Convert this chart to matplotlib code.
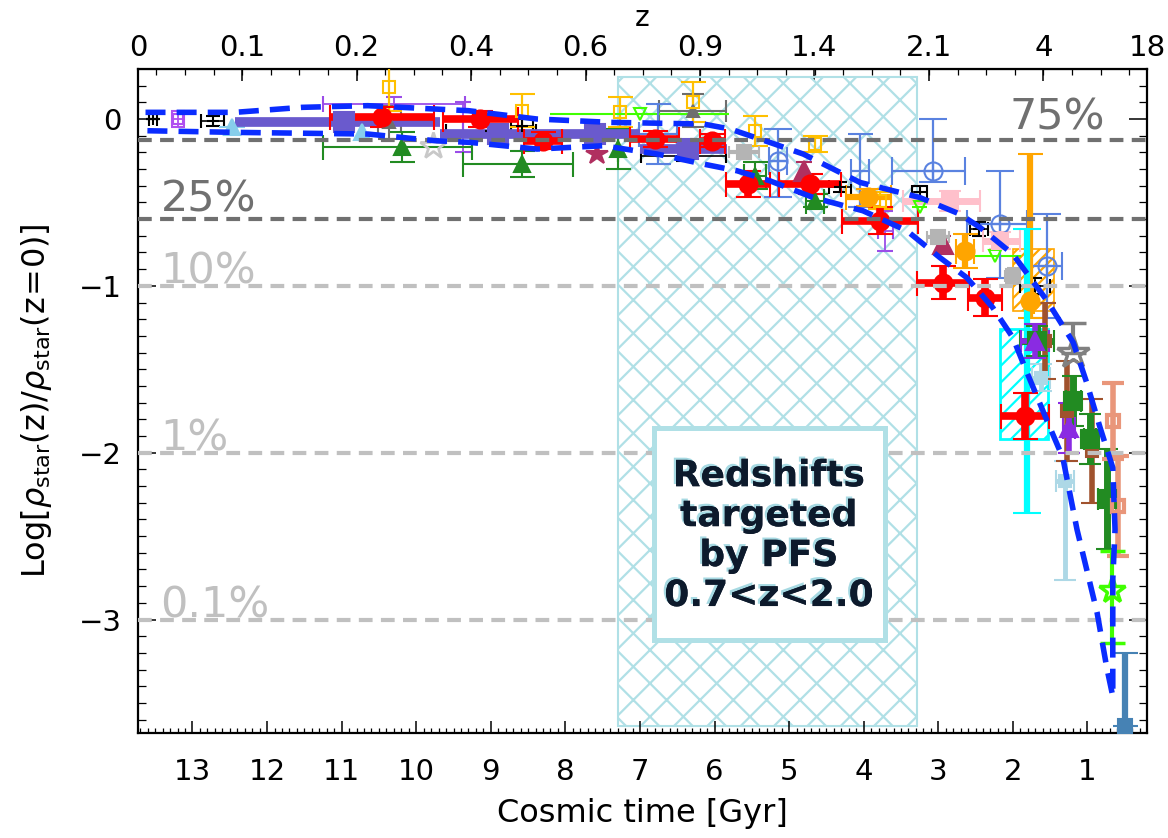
import numpy as np
import matplotlib
matplotlib.use('Agg')
import matplotlib.pyplot as plt
import matplotlib.patheffects as pe
from matplotlib.patches import Rectangle

plt.rcParams['font.family'] = ['DejaVu Sans']
plt.rcParams['hatch.linewidth'] = 1.6

# ---------------- axes annotation ----------------
bottom_ticks = [13, 12, 11, 10, 9, 8, 7, 6, 5, 4, 3, 2, 1]
top_labels = ['0', '0.1', '0.2', '0.4', '0.6', '0.9', '1.4', '2.1', '4', '18']
top_ticks = [13.73, 12.33, 10.80, 9.26, 7.73, 6.19, 4.66, 3.13, 1.59, 0.20]

pct_frac = [0.75, 0.25, 0.10, 0.01, 0.001]
pct_text = ['75%', '25%', '10%', '1%', '0.1%']

# PFS window (0.7<z<2.0) in cosmic time
pfs_t = [7.29, 3.29]

# ---------------- model envelope ----------------
env_up_t = [13.63, 12.43, 11.53, 10.65, 9.75, 9.30, 8.38, 7.40, 6.15, 5.79, 5.26, 4.81,
            4.05, 3.25, 2.71, 2.44, 2.00, 1.54, 1.19, 1.01, 0.83, 0.66, 0.63, 0.66, 0.66]
env_up_v = [0.04, 0.04, 0.07, 0.08, 0.06, 0.05, 0.00, -0.02, -0.03, -0.06, -0.14, -0.21,
            -0.38, -0.47, -0.57, -0.65, -0.81, -1.09, -1.34, -1.58, -1.85, -2.09, -2.46, -2.76, -3.46]
env_lo_t = [13.63, 12.43, 10.65, 9.75, 9.28, 8.38, 7.49, 6.77, 6.15, 5.70, 5.26, 4.68, 4.01,
            3.42, 2.98, 2.62, 2.27, 2.00, 1.81, 1.54, 1.33, 1.14, 1.01, 0.87, 0.74, 0.66]
env_lo_v = [-0.07, -0.08, -0.09, -0.13, -0.14, -0.18, -0.16, -0.21, -0.27, -0.31, -0.37, -0.47, -0.55,
            -0.67, -0.83, -0.95, -1.13, -1.31, -1.52, -1.81, -2.03, -2.46, -2.70, -2.96, -3.29, -3.46]

# ---------------- data compilation ----------------
red_t = [10.46, 9.14, 8.30, 6.80, 6.03, 5.55, 4.72, 3.78, 2.94, 2.37, 1.84]
red_v = [0.01, 0.00, -0.13, -0.12, -0.13, -0.39, -0.39, -0.61, -0.98, -1.07, -1.78]
red_dt = [0.70, 0.50, 0.25, 0.33, 0.17, 0.30, 0.42, 0.51, 0.35, 0.23, 0.32]
red_dv = [0.06, 0.05, 0.05, 0.05, 0.04, 0.08, 0.06, 0.08, 0.10, 0.11, 0.14]

sb_t = [10.97, 8.90, 7.60, 6.36]
sb_v = [-0.02, -0.09, -0.09, -0.18]
sb_dt_lo = [1.29, 0.83, 0.60, 0.53]
sb_dt_hi = [1.46, 0.78, 0.47, 0.64]
sb_dv = [0.05, 0.06, 0.05, 0.06]

gd_t = [10.36, 8.58, 7.27, 6.29, 5.46, 4.65, 3.78]
gd_v = [0.19, 0.05, 0.04, 0.10, -0.07, -0.15, -0.49]
gd_dv = [0.14, 0.10, 0.09, 0.12, 0.09, 0.05, 0.05]

gt_t = [10.19, 8.58, 7.29, 5.46, 4.65]
gt_v = [-0.17, -0.27, -0.18, -0.34, -0.49]
gt_dt_lo = [0.94, 0.68, 0.0, 0.15, 0.12]
gt_dt_hi = [1.06, 0.79, 0.0, 0.15, 0.12]
gt_dv = [0.09, 0.08, 0.12, 0.08, 0.04]

dg_t = [1.68, 1.19, 0.97, 0.74]
dg_v = [-1.33, -1.69, -1.92, -2.28]
dg_dt = [0.23, 0.10, 0.08, 0.12]
dg_dv = [0.09, 0.15, 0.15, 0.30]

br_t = [1.57, 1.27, 0.94]
br_v = [-1.33, -1.75, -1.99]
br_dv = [0.23, 0.30, 0.31]

sa_t = [0.66, 0.59]
sa_v = [-1.81, -2.32]
sa_dv = [0.23, 0.30]

cy_t = [1.81]
cy_v = [-1.45]
cy_dv_lo = [0.91]
cy_dv_hi = [0.79]
cy_box_t = [2.17, 1.53]
cy_box_v = [-1.92, -1.26]

lb_t = [1.62, 1.30]
lb_v = [-1.55, -2.17]
lb_dt = [0.12, 0.12]
lb_dv_lo = [0.08, 0.59]
lb_dv_hi = [0.08, 0.12]

st_t = [0.50]
st_v = [-3.64]
st_dv_hi = [0.44]

lm_t = [7.00, 3.25, 2.24]
lm_v = [0.03, -0.53, -0.82]
lm_dt = [1.20, 0.10, 0.35]

ls_t = [0.67]
ls_v = [-2.82]
ls_dv_lo = [0.32]
ls_dv_hi = [0.23]

gs_t = [1.19]
gs_v = [-1.40]
gs_dv_hi = [0.18]

sv_star_t = [9.78]
sv_star_v = [-0.16]

cf_t = [5.15, 3.07, 2.17, 1.54]
cf_v = [-0.25, -0.31, -0.63, -0.88]
cf_dt_lo = [0.12, 0.43, 0.36, 0.20]
cf_dt_hi = [0.12, 0.55, 0.44, 0.26]
cf_dv_lo = [0.22, 0.07, 0.32, 0.31]
cf_dv_hi = [0.19, 0.31, 0.32, 0.31]

cx_t = [6.76, 4.05]
cx_v = [-0.09, -0.31]
cx_dt = [0.25, 0.12]
cx_dv = [0.18, 0.22]

bk_t = [13.53, 12.73, 9.00, 8.58, 6.42, 4.32, 3.25, 2.45, 1.70]
bk_v = [0.00, -0.01, -0.07, -0.04, -0.22, -0.41, -0.44, -0.66, -1.00]
bk_dt = [0.05, 0.15, 0.60, 0.15, 0.57, 0.15, 0.10, 0.12, 0.20]
bk_dv = [0.00, 0.03, 0.02, 0.04, 0.03, 0.03, 0.04, 0.04, 0.05]

dk_t = [10.36, 6.29]
dk_v = [-0.02, 0.05]
dk_dt = [0.15, 0.45]
dk_dv = [0.10, 0.10]

sv_t = [5.60, 3.00, 2.00]
sv_v = [-0.20, -0.71, -0.94]
sv_dt = [0.20, 0.15, 0.10]
sv_dv = [0.04, 0.04, 0.05]

mr_t = [4.80, 2.94]
mr_v = [-0.31, -0.75]
mr_star_t = [7.57]
mr_star_v = [-0.21]

pk_t = [2.84, 2.17]
pk_v = [-0.49, -0.73]
pk_dt_lo = [0.40, 0.27]
pk_dt_hi = [0.63, 0.23]
pk_dv = [0.06, 0.05]

or_t = [3.94, 2.64, 1.77]
or_v = [-0.47, -0.79, -1.09]
or_dt = [0.30, 0.12, 0.05]
or_dv_lo = [0.05, 0.10, 0.10]
or_dv_hi = [0.05, 0.10, 0.88]
or_box_t = [2.00, 1.45]
or_box_v = [-1.15, -0.78]

bv_t = [10.30, 9.37, 3.71]
bv_v = [0.09, -0.05, -0.67]
bv_dt = [0.95, 0.0, 0.10]
bv_dv = [0.04, 0.15, 0.12]

bt_t = [1.70, 1.25]
bt_v = [-1.33, -1.85]
bt_dt = [0.19, 0.08]
bt_dv = [0.10, 0.15]

sk_t = [12.47, 10.73]
sk_v = [-0.05, -0.08]
sk_dt = [0.18, 0.0]

vs_t = [13.20]
vs_v = [0.0]
vs_dt = [0.08]
vs_dv = [0.05]

# ---------------- figure ----------------
fig = plt.figure(figsize=(11.68, 8.38), dpi=100)
ax = fig.add_axes([0.1182, 0.1253, 0.8639, 0.7924])
ax.set_xlim(13.73, 0.20)
ax.set_ylim(-3.68, 0.30)


def draw(t, v, dt, dv, color, fmt, ms, lw, cap, mfc=None, mew=1.5, z=3):
    ax.errorbar(t, v, xerr=dt, yerr=dv, fmt=fmt, color=color, ms=ms,
                mfc=color if mfc is None else mfc, mec=color, mew=mew,
                elinewidth=lw, capsize=cap, capthick=lw, zorder=z)


# PFS hatched window
ax.add_patch(Rectangle((pfs_t[1], -3.64), pfs_t[0] - pfs_t[1], 3.89,
                       facecolor='none', edgecolor='#b0e0e6', hatch='x', lw=1.5, zorder=1))

# thin data sets
draw(vs_t, vs_v, vs_dt, vs_dv, '#b050f0', 's', 7, 1.3, 5, mfc='none')
draw(bk_t, bk_v, bk_dt, bk_dv, 'black', '+', 8, 1.2, 5)
draw(sk_t, sk_v, sk_dt, None, '#87ceeb', '^', 11, 1.5, 0)
draw(dk_t, dk_v, dk_dt, dk_dv, '#6e6e6e', '^', 8, 1.5, 8)
draw(bv_t, bv_v, bv_dt, bv_dv, '#9b4de8', 'none', 6, 1.3, 6)
draw(gd_t, gd_v, None, gd_dv, '#ffc000', 's', 9, 1.6, 9, mfc='none')
draw(gt_t, gt_v, [gt_dt_lo, gt_dt_hi], gt_dv, '#228b22', '^', 11, 1.5, 9)
draw(lm_t, lm_v, lm_dt, None, '#40ff00', 'v', 9, 1.5, 0, mfc='none')
draw(cx_t, cx_v, cx_dt, cx_dv, '#5a82e0', 'none', 6, 1.6, 9)
draw(cf_t, cf_v, [cf_dt_lo, cf_dt_hi], [cf_dv_lo, cf_dv_hi], '#5a82e0', 'o', 13, 1.6, 10,
     mfc='none')
ax.plot(cf_t, cf_v, '+', color='#5a82e0', ms=13, mew=1.6, zorder=3)
draw(sv_star_t, sv_star_v, None, None, '#c8c8c8', '*', 20, 1.5, 0, mfc='none', mew=2)
draw(mr_star_t, mr_star_v, None, None, '#b03060', '*', 16, 1.5, 0)
draw(mr_t, mr_v, None, [0.05, 0.05], '#b03060', '^', 15, 1.5, 6)
draw(sv_t, sv_v, sv_dt, sv_dv, '#b4b4b4', 's', 10, 3, 4)

# thick data sets
draw(sb_t, sb_v, [sb_dt_lo, sb_dt_hi], sb_dv, '#6a5acd', 's', 15, 7, 0)
draw(pk_t, pk_v, [pk_dt_lo, pk_dt_hi], pk_dv, '#ffc0cb', 's', 12, 5, 8)
draw(or_t, or_v, or_dt, [or_dv_lo, or_dv_hi], '#ffa500', 'o', 13, 4.5, 9)
ax.add_patch(Rectangle((or_box_t[1], or_box_v[0]), or_box_t[0] - or_box_t[1],
                       or_box_v[1] - or_box_v[0], facecolor='none', edgecolor='#ffa500',
                       hatch='///', lw=1.2, zorder=2.5))
ax.add_patch(Rectangle((cy_box_t[1], cy_box_v[0]), cy_box_t[0] - cy_box_t[1],
                       cy_box_v[1] - cy_box_v[0], facecolor='none', edgecolor='#00ffff',
                       hatch='//', lw=2, zorder=2.6))
draw(cy_t, cy_v, None, [cy_dv_lo, cy_dv_hi], '#00ffff', 'none', 6, 4.5, 10)
draw(lb_t, lb_v, lb_dt, [lb_dv_lo, lb_dv_hi], '#add8e6', 's', 9, 3.5, 8)
draw(red_t, red_v, red_dt, red_dv, '#ff0000', 'o', 13, 5.5, 9)
draw(br_t, br_v, None, br_dv, '#a0522d', 's', 8, 4, 8)
draw(dg_t, dg_v, dg_dt, dg_dv, '#228b22', 's', 13, 5, 8)
draw(bt_t, bt_v, bt_dt, bt_dv, '#8a2be2', '^', 13, 4, 8)
draw(sa_t, sa_v, None, sa_dv, '#e9967a', 's', 9, 4, 8, mfc='none', mew=3)
draw(gs_t, gs_v, None, [[0.0], gs_dv_hi], '#808080', '*', 24, 3, 9, mfc='none', mew=2.5)
draw(ls_t, ls_v, None, [ls_dv_lo, ls_dv_hi], '#40ff00', '*', 20, 3, 9, mfc='none', mew=2.5)
draw(st_t, st_v, None, [[0.0], st_dv_hi], '#4682b4', 's', 10, 4.5, 9, z=4)

# fraction reference lines
for f, txt in zip(pct_frac, pct_text):
    y = np.log10(f)
    col = '#707070' if f >= 0.25 else '#c0c0c0'
    ax.axhline(y, color=col, lw=3, dashes=(3.3, 2.0), zorder=4)
    if f == 0.75:
        ax.text(0.77, y + 0.065, txt, color=col, fontsize=31, ha='right', va='baseline', zorder=4)
    else:
        off = 0.045 if f == 0.25 else 0.012
        ax.text(13.43, y + off, txt, color=col, fontsize=31, ha='left', va='baseline', zorder=4)

# model envelope as a closed dashed contour
env_t = env_up_t + env_lo_t[::-1]
env_v = env_up_v + env_lo_v[::-1]
ax.plot(env_t, env_v, color='#0a2cff', lw=4, dashes=(3.6, 2.0), zorder=5)

# PFS label box
ax.add_patch(Rectangle((3.71, -3.12), 3.10, 1.27, facecolor='white',
                       edgecolor='#b0e0e6', lw=3.6, zorder=10))
ax.text(5.27, -2.50, 'Redshifts\ntargeted\nby PFS\n0.7<z<2.0', ha='center', va='center',
        fontsize=26, fontweight='bold', color='#0d1a2c',
        linespacing=1.22, zorder=11,
        path_effects=[pe.withSimplePatchShadow(offset=(-1.6, 1.6), shadow_rgbFace='#a6d9e2',
                                               alpha=1.0), pe.Normal()])

# ticks and labels
ax.set_xticks(bottom_ticks)
ax.set_xticks(np.arange(0.3, 13.71, 0.1), minor=True)
ax.set_yticks([0, -1, -2, -3])
ax.set_yticks(np.arange(-3.6, 0.25, 0.1), minor=True)
ax.tick_params(axis='x', which='major', direction='in', length=8.6, width=1.1,
               labelsize=21, pad=18, top=False)
ax.tick_params(axis='x', which='minor', direction='in', length=3.6, width=0.9, top=False)
ax.tick_params(axis='y', which='major', direction='in', length=13, width=1.1,
               labelsize=21, pad=12, right=True)
ax.tick_params(axis='y', which='minor', direction='in', length=6, width=0.9, right=True)
for sp in ax.spines.values():
    sp.set_linewidth(1.6)

sec = ax.secondary_xaxis('top')
sec.set_xticks(top_ticks, labels=top_labels)
sec.set_xticks([13.869 - 1.5349 * k / 4 for k in range(1, 36)], minor=True)
sec.tick_params(which='major', direction='in', length=8.6, width=1.1, labelsize=21, pad=5)
sec.tick_params(which='minor', direction='in', length=4.3, width=0.9)
sec.set_xlabel('z', fontsize=20, labelpad=6)

ax.set_xlabel('Cosmic time [Gyr]', fontsize=23)
ax.xaxis.set_label_coords(0.5, -0.098)
ax.set_ylabel(r'Log$[\rho_{\mathrm{star}}(\mathrm{z})/\rho_{\mathrm{star}}(\mathrm{z\!=\!0})]$',
              fontsize=23)
ax.yaxis.set_label_coords(-0.083, 0.5)

fig.savefig('out.png', dpi=100)
